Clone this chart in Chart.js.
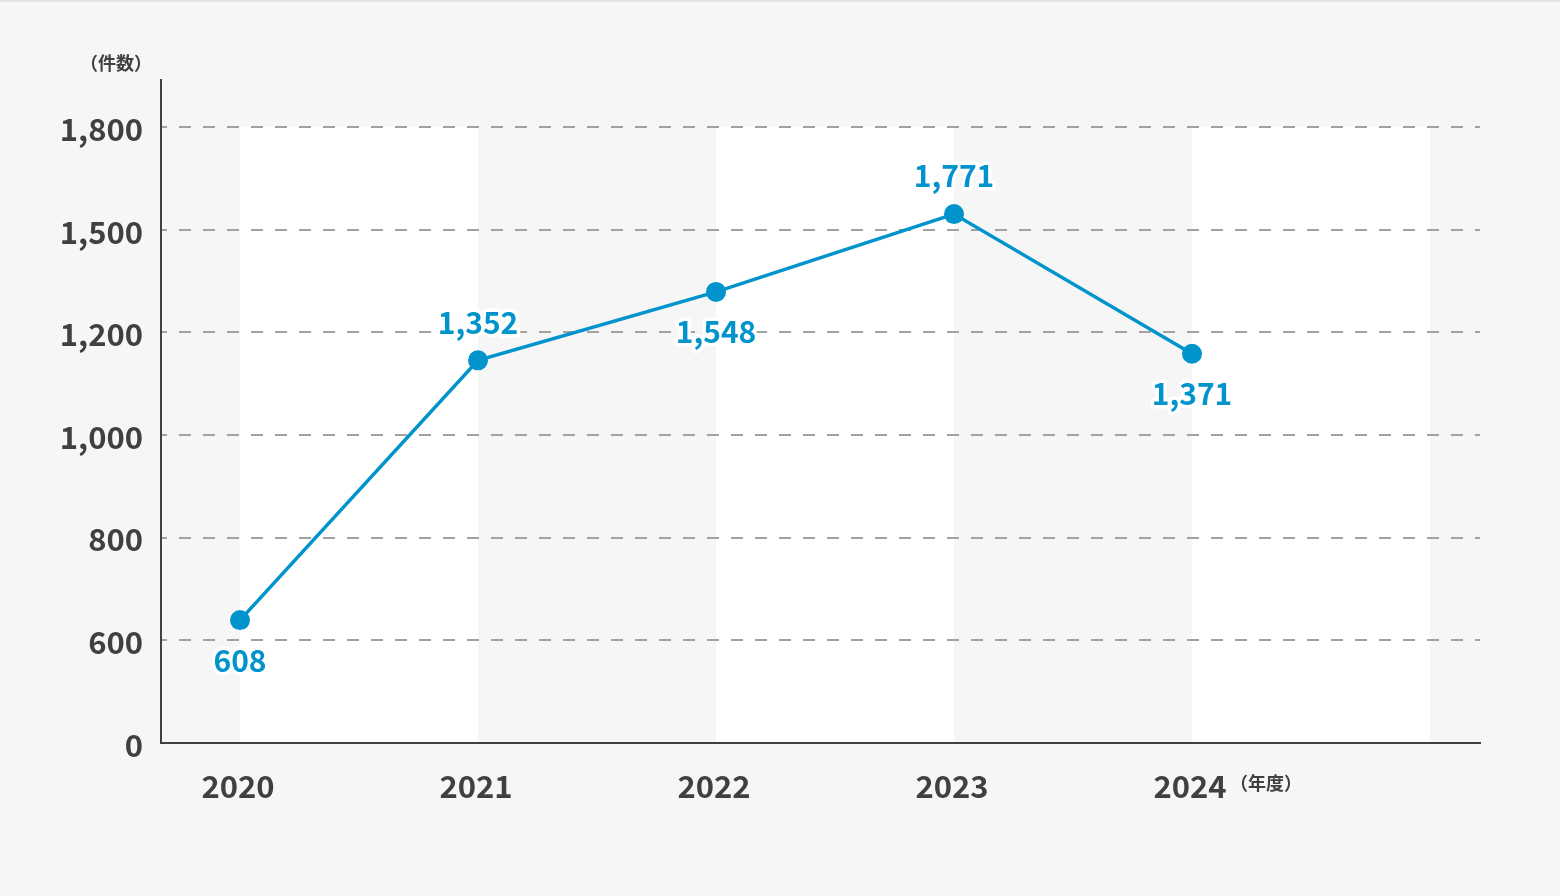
<!DOCTYPE html>
<html>
<head>
<meta charset="utf-8">
<script src="https://cdn.jsdelivr.net/npm/chart.js@4.4.1/dist/chart.umd.min.js"></script>
<style>
  html, body { margin: 0; padding: 0; background: #f6f6f6; }
  #wrap { width: 1560px; height: 896px; }
</style>
</head>
<body>
<div id="wrap"><canvas id="chart" width="1560" height="896"></canvas></div>
<script>
// data
let years = [2020, 2021, 2022, 2023, 2024];
let yearLabels = ["2020", "2021", "2022", "2023", "2024"];
let counts = [608, 1352, 1548, 1771, 1371];
let countLabels = ["608", "1,352", "1,548", "1,771", "1,371"];
let labelSide = ["below", "above", "below", "above", "below"];
let yTickLabels = ["0", "600", "800", "1,000", "1,200", "1,500", "1,800"];

// axis range (the printed y labels are not to scale, the points are)
let yMin = 256,
  yStep = 294,
  yMax = 2155;
let xMin = 2019.668,
  xMax = 2025.21;

let blue = "#0093cc";
let dark = "#404040";
let font = "'Noto Sans CJK JP', 'Noto Sans', sans-serif";

Chart.defaults.font.family = font;

// background + white column bands
let bands = {
  id: "bands",
  beforeDraw(chart) {
    let ctx = chart.ctx;
    let area = chart.chartArea;
    let x = chart.scales.x;
    let y = chart.scales.y;
    ctx.save();
    ctx.fillStyle = "#f6f6f6";
    ctx.fillRect(0, 0, chart.width, chart.height);
    ctx.fillStyle = "#e3e3e3";
    ctx.fillRect(0, 0, chart.width, 2);
    let top = y.getPixelForValue(yMin + yStep * (yTickLabels.length - 1));
    ctx.fillStyle = "#ffffff";
    for (let i = 0; i < years.length; i += 2) {
      let x0 = x.getPixelForValue(years[i]);
      let x1 = x.getPixelForValue(years[i] + 1);
      ctx.fillRect(x0, top, x1 - x0, area.bottom - top);
    }
    ctx.restore();
  }
};

// value labels with white halo
let pointLabels = {
  id: "pointLabels",
  afterDatasetsDraw(chart) {
    let ctx = chart.ctx;
    let meta = chart.getDatasetMeta(0);
    ctx.save();
    ctx.font = "bold 30px " + font;
    ctx.textAlign = "center";
    ctx.textBaseline = "middle";
    ctx.lineJoin = "round";
    meta.data.forEach(function(pt, i) {
      let ty = labelSide[i] === "above" ? pt.y - 38 : pt.y + 40;
      ctx.lineWidth = 7;
      ctx.strokeStyle = "#ffffff";
      ctx.strokeText(countLabels[i], pt.x, ty);
      ctx.fillStyle = blue;
      ctx.fillText(countLabels[i], pt.x, ty);
    });
    ctx.restore();
  }
};

// unit captions
let units = {
  id: "units",
  afterDraw(chart) {
    let ctx = chart.ctx;
    let area = chart.chartArea;
    let x = chart.scales.x;
    ctx.save();
    ctx.font = "bold 18px " + font;
    ctx.fillStyle = dark;
    ctx.textBaseline = "middle";
    ctx.textAlign = "right";
    ctx.fillText("（件数）", area.left - 9, area.top - 17);
    ctx.textAlign = "left";
    ctx.fillText("（年度）", x.getPixelForValue(years[years.length - 1]) + 38, area.bottom + 40);
    ctx.restore();
  }
};

let config = {
  type: "line",
  data: {
    datasets: [
      {
        data: years.map(function(yr, i) {
          return { x: yr, y: counts[i] };
        }),
        borderColor: blue,
        borderWidth: 3.5,
        pointRadius: 10,
        pointBackgroundColor: blue,
        pointBorderWidth: 0,
        pointHoverRadius: 10,
        fill: false,
        tension: 0
      }
    ]
  },
  options: {
    responsive: false,
    animation: false,
    devicePixelRatio: 1,
    events: [],
    layout: { padding: { top: 80, right: 80, bottom: 0, left: 0 } },
    plugins: { legend: { display: false }, tooltip: { enabled: false } },
    scales: {
      x: {
        type: "linear",
        min: xMin,
        max: xMax,
        afterBuildTicks: function(scale) {
          scale.ticks = years.map(function(v) {
            return { value: v };
          });
        },
        afterFit: function(scale) {
          scale.height = 153;
        },
        ticks: {
          autoSkip: false,
          maxRotation: 0,
          padding: 25,
          labelOffset: -2,
          color: dark,
          font: { size: 31, weight: "bold" },
          callback: function(v, i) {
            return yearLabels[i];
          }
        },
        grid: { display: false, drawTicks: false },
        border: { display: true, color: dark, width: 2 }
      },
      y: {
        type: "linear",
        min: yMin,
        max: yMax,
        afterBuildTicks: function(scale) {
          scale.ticks = yTickLabels.map(function(t, i) {
            return { value: yMin + i * yStep };
          });
        },
        afterFit: function(scale) {
          scale.width = 161;
        },
        ticks: {
          padding: 18,
          labelOffset: 2,
          color: dark,
          font: { size: 31, weight: "bold" },
          callback: function(v, i) {
            return yTickLabels[i];
          }
        },
        grid: {
          drawTicks: false,
          lineWidth: 2,
          color: function(c) {
            return c.index === 0 ? "rgba(0,0,0,0)" : "#a2a2a2";
          }
        },
        border: { display: true, color: dark, width: 2, dash: [12, 12], dashOffset: 7 }
      }
    }
  },
  plugins: [bands, pointLabels, units]
};

window.onload = function() {
  let ctx = document.getElementById("chart").getContext("2d");
  window.chart = new Chart(ctx, config);
};
</script>
</body>
</html>
